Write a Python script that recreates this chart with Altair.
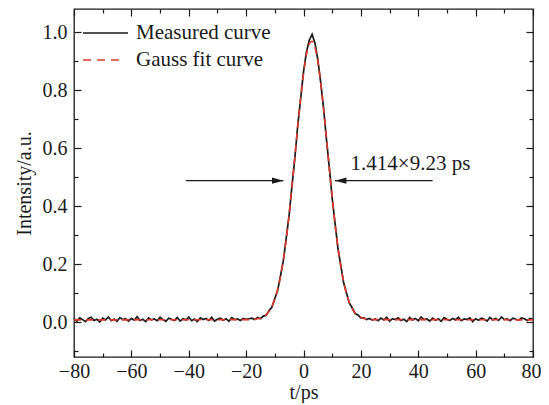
import altair as alt
import pandas as pd

# ---------------- data ----------------
# measured trace, sampled every 1 ps from -80 to 80
t_axis = list(range(-80, 81))
base_left = [
    0.012, 0.004, 0.015, 0.009, 0.002, 0.013, 0.017, 0.006, 0.010, 0.001,
    0.014, 0.008, 0.018, 0.005, 0.011, 0.003, 0.016, 0.009, 0.012, 0.004,
    0.013, 0.007, 0.019, 0.006, 0.010, 0.002, 0.015, 0.008, 0.011, 0.005,
    0.017, 0.009, 0.003, 0.014, 0.010, 0.006, 0.016, 0.004, 0.012, 0.008,
    0.018, 0.005, 0.011, 0.002, 0.015, 0.009, 0.013, 0.006, 0.017, 0.004,
    0.010, 0.014, 0.007, 0.012, 0.003, 0.016, 0.009, 0.011, 0.006, 0.013,
    0.010, 0.012,
]
pulse = [
    0.014, 0.009, 0.016, 0.012, 0.021, 0.024, 0.040, 0.052, 0.082, 0.110,
    0.161, 0.214, 0.292, 0.370, 0.472, 0.568, 0.679, 0.770, 0.862, 0.930,
    0.972, 0.993, 0.962, 0.905, 0.826, 0.738, 0.631, 0.533, 0.427, 0.341,
    0.255, 0.195, 0.136, 0.101, 0.066, 0.049, 0.030, 0.025, 0.014, 0.016,
    0.009, 0.013, 0.007,
]
base_right = [
    0.011, 0.005, 0.014, 0.008, 0.017, 0.003, 0.012, 0.009, 0.015, 0.006,
    0.010, 0.002, 0.016, 0.008, 0.013, 0.005, 0.018, 0.009, 0.011, 0.004,
    0.014, 0.007, 0.012, 0.003, 0.016, 0.010, 0.006, 0.013, 0.008, 0.017,
    0.005, 0.011, 0.009, 0.015, 0.002, 0.012, 0.007, 0.014, 0.010, 0.004,
    0.016, 0.008, 0.013, 0.006, 0.018, 0.009, 0.011, 0.005, 0.014, 0.010,
    0.007, 0.015, 0.012, 0.006, 0.013, 0.010,
]
measured = base_left + pulse + base_right

# Gauss fit curve
fit_t = [-80] + list(range(-18, 25)) + [80]
fit_vals = [
    0.008,
    0.009, 0.010, 0.012, 0.014, 0.019, 0.026, 0.038, 0.055, 0.079, 0.113,
    0.158, 0.217, 0.289, 0.373, 0.469, 0.571, 0.675, 0.773, 0.857, 0.922,
    0.960, 0.969, 0.948, 0.899, 0.825, 0.735, 0.634, 0.530, 0.430, 0.338,
    0.258, 0.192, 0.139, 0.098, 0.068, 0.047, 0.032, 0.023, 0.017, 0.013,
    0.011, 0.009, 0.009,
    0.008,
]

legend_labels = ["Measured curve", "Gauss fit curve"]
arrow_y = 0.488
arrow_left_t = [-41, -7]
arrow_right_t = [45, 11]
note_text = "1.414×9.23 ps"
note_t = 16.4
note_y = 0.545
x_ticks = list(range(-80, 81, 10))
y_ticks = [-0.1, 0.0, 0.1, 0.2, 0.3, 0.4, 0.5, 0.6, 0.7, 0.8, 0.9, 1.0]

# ---------------- styling ----------------
FONT = "Liberation Serif"
INK = "#1a1a1a"
RED = "#e0392b"

xscale = alt.Scale(domain=[-80, 80], nice=False, zero=False)
yscale = alt.Scale(domain=[-0.12, 1.08], nice=False, zero=False)

X_SIZE = {"expr": "datum.value % 20 === 0 ? -7 : -4"}
Y_SIZE = {"expr": "abs(round(datum.value * 10)) % 2 === 0 ? -7 : -4"}


def x_axis(orient, show):
    kw = dict(orient=orient, values=x_ticks, tickSize=X_SIZE, tickColor=INK,
              tickWidth=1.2, domain=False, grid=False, labelOverlap=False,
              labelFlush=False)
    if show:
        kw.update(labels=True, labelExpr="datum.value % 20 === 0 ? datum.label : ''",
                  labelOffset={"expr": "datum.value === 80 ? -2 : 0"},
                  labelFont=FONT, labelFontSize=20, labelColor=INK, labelPadding=11,
                  title="t/ps", titleFont=FONT, titleFontSize=20, titleFontWeight="normal",
                  titleColor=INK, titlePadding=-2)
    else:
        kw.update(labels=False, title=None)
    return alt.Axis(**kw)


def y_axis(orient, show):
    kw = dict(orient=orient, values=y_ticks, tickSize=Y_SIZE, tickColor=INK,
              tickWidth=1.2, domain=False, grid=False, labelOverlap=False,
              labelFlush=False)
    if show:
        kw.update(labels=True,
                  labelExpr="abs(round(datum.value * 10)) % 2 === 0 && datum.value > -0.05 ? format(datum.value, '.1f') : ''",
                  labelFont=FONT, labelFontSize=20, labelColor=INK, labelPadding=14,
                  title="Intensity/a.u.", titleFont=FONT, titleFontSize=20,
                  titleFontWeight="normal", titleColor=INK, titlePadding=8)
    else:
        kw.update(labels=False, title=None)
    return alt.Axis(**kw)


measured_df = pd.DataFrame({"t": t_axis, "I": measured})
fit_df = pd.DataFrame({"t": fit_t, "I": fit_vals})

black = alt.Chart(measured_df).mark_line(color=INK, strokeWidth=1.7).encode(
    x=alt.X("t:Q", scale=xscale, axis=x_axis("bottom", True)),
    y=alt.Y("I:Q", scale=yscale, axis=y_axis("left", True)),
)

red = alt.Chart(fit_df).mark_line(
    color=RED, strokeWidth=1.6, strokeDash=[7, 5], interpolate="monotone"
).encode(
    x=alt.X("t:Q", scale=xscale, axis=x_axis("top", False)),
    y=alt.Y("I:Q", scale=yscale, axis=y_axis("right", False)),
)

arrows_df = pd.DataFrame({
    "t": arrow_left_t + arrow_right_t,
    "I": [arrow_y] * 4,
    "g": ["L", "L", "R", "R"],
})
arrow_lines = alt.Chart(arrows_df).mark_line(color=INK, strokeWidth=1.3).encode(
    x=alt.X("t:Q", scale=xscale, axis=None),
    y=alt.Y("I:Q", scale=yscale, axis=None),
    detail="g:N",
)

HEAD_R = "M0,0 L-1,-0.27 L-1,0.27 Z"
HEAD_L = "M0,0 L1,-0.27 L1,0.27 Z"
heads_df = pd.DataFrame({
    "t": [arrow_left_t[1], arrow_right_t[1]],
    "I": [arrow_y, arrow_y],
    "shape": [HEAD_R, HEAD_L],
})
heads = alt.Chart(heads_df).mark_point(filled=True, color=INK, opacity=1, size=520, strokeWidth=0).encode(
    x=alt.X("t:Q", scale=xscale, axis=None),
    y=alt.Y("I:Q", scale=yscale, axis=None),
    shape=alt.Shape("shape:N", scale=None, legend=None),
)

note_df = pd.DataFrame({"t": [note_t], "I": [note_y], "txt": [note_text]})
note = alt.Chart(note_df).mark_text(
    align="left", baseline="middle", font=FONT, fontSize=21, color=INK
).encode(
    x=alt.X("t:Q", scale=xscale, axis=None),
    y=alt.Y("I:Q", scale=yscale, axis=None),
    text="txt:N",
)

# legend drawn inside the plot, top-left
one = pd.DataFrame({"k": [0]})
leg_line1 = alt.Chart(one).mark_rule(color=INK, strokeWidth=1.4).encode(
    x=alt.value(9), x2=alt.value(54), y=alt.value(24)
)
leg_line2 = alt.Chart(one).mark_rule(color=RED, strokeWidth=1.6, strokeDash=[8, 6]).encode(
    x=alt.value(9), x2=alt.value(48), y=alt.value(51)
)
leg_text1 = alt.Chart(one).mark_text(
    align="left", baseline="middle", font=FONT, fontSize=21, color=INK, text=legend_labels[0]
).encode(x=alt.value(62), y=alt.value(24))
leg_text2 = alt.Chart(one).mark_text(
    align="left", baseline="middle", font=FONT, fontSize=21, color=INK, text=legend_labels[1]
).encode(x=alt.value(62), y=alt.value(51))

chart = alt.layer(
    black, red, arrow_lines, heads, note, leg_line1, leg_line2, leg_text1, leg_text2
).resolve_axis(
    x="independent", y="independent"
).properties(
    width=459, height=348,
    autosize=alt.AutoSizeParams(type="none"),
    padding={"left": 66, "top": 1, "right": 8, "bottom": 46},
    background="white",
).configure(
    font=FONT
).configure_axis(
    labelFont=FONT, labelFontSize=20, labelColor=INK,
    titleFont=FONT, titleFontSize=20, titleColor=INK, titleFontWeight="normal",
).configure_view(
    stroke=INK, strokeWidth=1.3
)

chart.save("out.html", embed_options={"renderer": "svg", "actions": False})
